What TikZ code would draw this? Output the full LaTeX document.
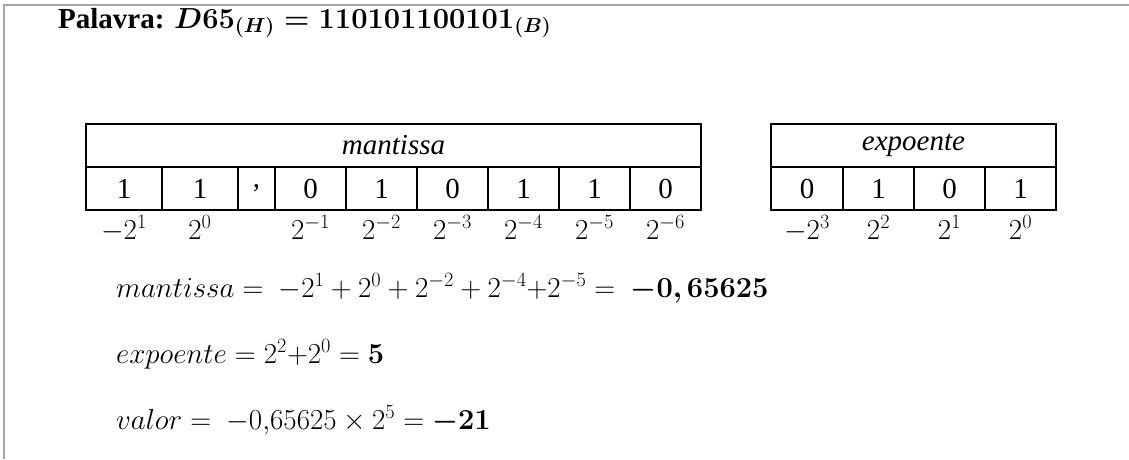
\RequirePackage{fix-cm}
\documentclass[tikz,border=0pt]{standalone}
\usepackage{amsmath}
\usepackage[no-math]{fontspec}
\setmainfont{Liberation Serif}
\definecolor{frameg}{HTML}{A6A6A6}
\begin{document}
\begin{tikzpicture}[x=1pt,y=-1pt,
  bigfont/.style={font=\fontsize{29}{34}\selectfont},
  cellbox/.style={draw,line width=1.3pt,inner sep=0pt,outer sep=0pt,minimum height=43pt,anchor=north west,bigfont},
  lbltext/.style={anchor=base,inner sep=0pt,bigfont},
  eqtext/.style={anchor=base west,inner sep=0pt,bigfont},
  frameline/.style={draw=frameg,line width=2pt}]
\useasboundingbox (0,0) rectangle (1129,459);
% frame (top and left edges)
\coordinate (ftr) at (1129,5);
\coordinate (ftl) at (4,5);
\coordinate (fbl) at (4,459);
\draw[frameline] (ftr) -- (ftl) -- (fbl);
% title
\node[eqtext] (ttl) at (58,28) {\textbf{Palavra:} {\boldmath$D65_{(H)} = 110101100101_{(B)}$}};
% mantissa table
\node[cellbox,minimum width=615pt] (mh) at (86,124) {\itshape mantissa};
\foreach \x/\w/\t/\l [count=\i] in {86/76/1/{-2^{1}},162/76/1/{2^{0}},238/37/{,}/{},275/71/0/{2^{-1}},346/71/1/{2^{-2}},417/71/0/{2^{-3}},488/71/1/{2^{-4}},559/71/1/{2^{-5}},630/71/0/{2^{-6}}}{
  \node[cellbox,minimum width=\w pt] (m\i) at (\x,167) {\t};
  \path (m\i.south) ++(0,29) node[lbltext] (ml\i) {$\l$};
}
% exponent table
\node[cellbox,minimum width=285pt] (eh) at (771,124) {\itshape expoente};
\foreach \x/\w/\t/\l [count=\i] in {771/72/0/{-2^{3}},843/71/1/{2^{2}},914/71/0/{2^{1}},985/71/1/{2^{0}}}{
  \node[cellbox,minimum width=\w pt] (e\i) at (\x,167) {\t};
  \path (e\i.south) ++(0,29) node[lbltext] (el\i) {$\l$};
}
% equations
\node[eqtext] (eqm) at (116,297) {$mantissa =\ -2^{1}+2^{0}+2^{-2}+2^{-4}{+}2^{-5} =\ \boldsymbol{-}\mathbf{0}\boldsymbol{,}\,\mathbf{65625}$};
\node[eqtext] (eqe) at (116,363) {$expoente = 2^{2}{+}2^{0} = \mathbf{5}$};
\node[eqtext] (eqv) at (116,429) {$valor =\ -0{,}65625\times 2^{5} = \boldsymbol{-}\mathbf{21}$};
\end{tikzpicture}
\end{document}
